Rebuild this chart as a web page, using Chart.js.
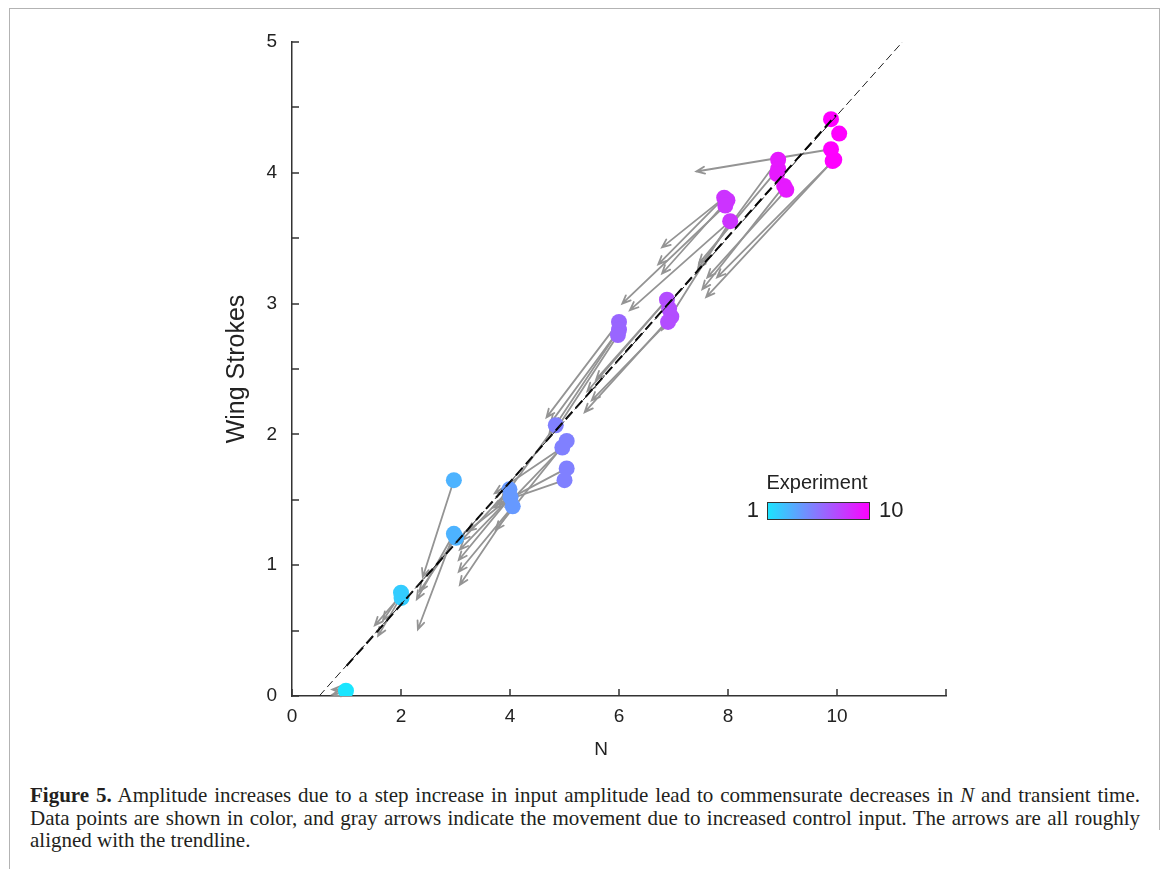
<!DOCTYPE html>
<html>
<head>
<meta charset="utf-8">
<script src="https://cdn.jsdelivr.net/npm/chart.js@4.4.0/dist/chart.umd.min.js"></script>
<style>
  body { margin:0; background:#fff; width:1168px; height:869px; overflow:hidden; position:relative; }
  #frame { position:absolute; left:9px; top:8px; width:1150px; height:900px; border-left:1px solid #b3b3b3; border-top:1px solid #b3b3b3; }
  #rline { position:absolute; left:1159px; top:8px; width:1px; height:822px; background:#b3b3b3; }
  canvas { position:absolute; left:0; top:0; }
  #caption { position:absolute; left:30px; top:784px; width:1110px; font-family:"Liberation Serif", "Times New Roman", serif; font-size:21px; line-height:22.5px; color:#231f20; }
  .j { text-align:justify; text-align-last:justify; }
</style>
</head>
<body>
<div id="frame"></div>
<div id="rline"></div>
<canvas id="myChart" width="1168" height="770"></canvas>
<div id="caption">
  <div class="j"><b>Figure 5.</b> Amplitude increases due to a step increase in input amplitude lead to commensurate decreases in <i>N</i> and transient time.</div>
  <div class="j">Data points are shown in color, and gray arrows indicate the movement due to increased control input. The arrows are all roughly</div>
  <div>aligned with the trendline.</div>
</div>
<script>
// data points (N, wing strokes) and the experiment they belong to
const pointN = [0.99, 2.0, 2.01, 2.97, 2.97, 3.01, 3.99, 4.01, 4.05, 4.84, 4.96, 5.04, 5.04, 5.0,
  6.0, 6.0, 5.98, 6.88, 6.92, 6.96, 6.9, 7.93, 7.99, 7.95, 8.04, 8.92, 8.92, 8.90, 9.03, 9.07,
  9.89, 10.04, 9.89, 9.95, 9.92]
const pointW = [0.04, 0.79, 0.75, 1.65, 1.24, 1.21, 1.58, 1.52, 1.45, 2.07, 1.90, 1.95, 1.74, 1.65,
  2.86, 2.80, 2.76, 3.03, 2.96, 2.90, 2.86, 3.81, 3.79, 3.75, 3.63, 4.10, 4.03, 3.99, 3.90, 3.87,
  4.41, 4.30, 4.18, 4.10, 4.09]
const pointExp = [1, 2, 2, 3, 3, 3, 4, 4, 4, 5, 5, 5, 5, 5, 6, 6, 6, 7, 7, 7, 7, 8, 8, 8, 8,
  9, 9, 9, 9, 9, 10, 10, 10, 10, 10]

// gray arrows, start -> end
const arrowFromN = [0.97, 0.97, 2.0, 2.0, 2.0, 2.97, 2.97, 2.97, 3.01, 3.99, 4.01, 4.01, 4.05, 4.05,
  4.01, 5.0, 5.04, 4.96, 5.04, 4.84, 4.96, 6.0, 6.0, 5.98, 6.0, 6.88, 6.96, 6.88, 6.9, 7.93, 7.99,
  7.95, 8.04, 7.93, 8.04, 8.92, 9.03, 8.92, 9.07, 9.89, 9.92, 9.95]
const arrowFromW = [0.05, 0.03, 0.77, 0.76, 0.78, 1.65, 1.24, 1.24, 1.21, 1.58, 1.52, 1.52, 1.45, 1.45,
  1.52, 1.65, 1.74, 1.90, 1.95, 2.07, 1.90, 2.86, 2.80, 2.76, 2.80, 3.03, 2.90, 3.03, 2.86, 3.81, 3.79,
  3.75, 3.63, 3.81, 3.63, 4.03, 3.90, 4.10, 3.87, 4.18, 4.09, 4.10]
const arrowToN = [0.74, 0.74, 1.52, 1.58, 1.67, 2.40, 2.31, 2.29, 2.34, 3.11, 3.08, 3.06, 3.06, 3.08,
  3.22, 3.75, 3.68, 3.72, 3.74, 3.85, 3.92, 4.67, 4.75, 4.82, 4.72, 5.42, 5.37, 5.58, 5.50, 6.79, 6.79,
  6.06, 6.79, 6.72, 6.20, 7.47, 7.53, 7.45, 7.62, 7.42, 7.60, 7.80]
const arrowToW = [0.05, 0.01, 0.54, 0.46, 0.58, 0.91, 0.51, 0.74, 0.80, 1.19, 1.12, 1.04, 0.95, 0.85,
  1.26, 1.47, 1.44, 1.55, 1.27, 1.50, 1.45, 2.13, 2.09, 2.02, 2.00, 2.33, 2.17, 2.42, 2.26, 3.43, 3.23,
  3.00, 2.80, 3.30, 2.95, 3.31, 3.11, 3.27, 3.20, 4.01, 3.05, 3.20]

// trendline: full extent and the part over the data
const trendN = [0.5, 11.2]
const trendW = [0, 5]
const fitN = [1.0, 9.98]
const fitW = [0.23, 4.44]

const expMin = 1
const expMax = 10

// matlab "cool" colormap
const cool = t => `rgb(${Math.round(255 * t)},${Math.round(255 * (1 - t))},255)`

const sans = '"Liberation Sans", Arial, Helvetica, sans-serif'

const arrowPlugin = {
  id: 'arrows',
  beforeDatasetsDraw(chart) {
    const { ctx, scales: { x, y } } = chart
    ctx.save()
    ctx.strokeStyle = 'rgb(148,148,148)'
    ctx.lineWidth = 1.8
    ctx.lineCap = 'round'
    arrowFromN.forEach((n, i) => {
      const x0 = x.getPixelForValue(n), y0 = y.getPixelForValue(arrowFromW[i])
      const x1 = x.getPixelForValue(arrowToN[i]), y1 = y.getPixelForValue(arrowToW[i])
      const a = Math.atan2(y1 - y0, x1 - x0)
      ctx.beginPath()
      ctx.moveTo(x0, y0)
      ctx.lineTo(x1, y1)
      ctx.moveTo(x1 - 9 * Math.cos(a - 0.4), y1 - 9 * Math.sin(a - 0.4))
      ctx.lineTo(x1, y1)
      ctx.lineTo(x1 - 9 * Math.cos(a + 0.4), y1 - 9 * Math.sin(a + 0.4))
      ctx.stroke()
    })
    ctx.restore()
  }
}

// tick marks point inward, plus the N label
const tickPlugin = {
  id: 'innerTicks',
  afterDraw(chart) {
    const { ctx, scales: { x, y }, chartArea: a } = chart
    ctx.save()
    ctx.strokeStyle = '#333'
    ctx.lineWidth = 1.5
    ctx.beginPath()
    x.ticks.forEach(t => {
      const px = Math.round(x.getPixelForValue(t.value))
      ctx.moveTo(px, a.bottom)
      ctx.lineTo(px, a.bottom - 7)
    })
    y.ticks.forEach(t => {
      const py = Math.round(y.getPixelForValue(t.value))
      ctx.moveTo(a.left, py)
      ctx.lineTo(a.left + 7, py)
    })
    ctx.stroke()
    ctx.fillStyle = '#222'
    ctx.font = '19px ' + sans
    ctx.textAlign = 'center'
    ctx.textBaseline = 'middle'
    ctx.fillText('N', 601, 750)
    ctx.restore()
  }
}

const colorbarPlugin = {
  id: 'colorbar',
  afterDraw(chart) {
    const ctx = chart.ctx
    const bx = 767, by = 502, bw = 103, bh = 18
    ctx.save()
    const g = ctx.createLinearGradient(bx, 0, bx + bw, 0)
    g.addColorStop(0, cool(expMin / 10))
    g.addColorStop(0.5, cool((expMin + expMax) / 20))
    g.addColorStop(1, cool(expMax / 10))
    ctx.fillStyle = g
    ctx.fillRect(bx, by, bw, bh)
    ctx.strokeStyle = '#333'
    ctx.lineWidth = 1
    ctx.strokeRect(bx + 0.5, by + 0.5, bw - 1, bh - 1)
    ctx.fillStyle = '#222'
    ctx.textBaseline = 'middle'
    ctx.textAlign = 'center'
    ctx.font = '20px ' + sans
    ctx.fillText('Experiment', 817, 483)
    ctx.font = '22px ' + sans
    ctx.textAlign = 'right'
    ctx.fillText(String(expMin), 759, 511)
    ctx.textAlign = 'left'
    ctx.fillText(String(expMax), 879, 511)
    ctx.restore()
  }
}

const ctx = document.getElementById('myChart').getContext('2d')
const myChart = new Chart(ctx, {
  type: 'scatter',
  data: {
    datasets: [
      {
        type: 'line',
        data: trendN.map((n, i) => ({ x: n, y: trendW[i] })),
        borderColor: '#222',
        borderWidth: 1,
        borderDash: [8, 4],
        pointRadius: 0,
        order: 0,
      },
      {
        type: 'line',
        data: fitN.map((n, i) => ({ x: n, y: fitW[i] })),
        borderColor: '#000',
        borderWidth: 2,
        borderDash: [10, 5],
        pointRadius: 0,
        order: 0,
      },
      {
        data: pointN.map((n, i) => ({ x: n, y: pointW[i] })),
        backgroundColor: pointExp.map(e => cool(e / 10)),
        pointRadius: 8,
        pointHoverRadius: 8,
        borderWidth: 0,
        order: 1,
      },
    ],
  },
  options: {
    responsive: false,
    animation: false,
    devicePixelRatio: 1,
    layout: { padding: { left: 200, right: 222, top: 42, bottom: 0 } },
    plugins: { legend: { display: false }, tooltip: { enabled: false } },
    scales: {
      x: {
        type: 'linear',
        min: 0,
        max: 12,
        grid: { display: false, drawTicks: false },
        border: { color: '#333', width: 1.5 },
        ticks: {
          stepSize: 2,
          padding: 9,
          color: '#222',
          font: { family: sans, size: 19 },
          callback: v => (v === 12 ? '' : v),
        },
        afterFit(s) { s.height = 74 },
      },
      y: {
        type: 'linear',
        min: 0,
        max: 5,
        grid: { display: false, drawTicks: false },
        border: { color: '#333', width: 1.5 },
        ticks: {
          stepSize: 0.5,
          padding: 15,
          color: '#222',
          autoSkip: false,
          font: { family: sans, size: 19 },
          callback: v => (Number.isInteger(v) ? v : ''),
        },
        title: { display: true, text: 'Wing Strokes', color: '#222', font: { family: sans, size: 25 }, padding: { top: 22, bottom: 0 } },
        afterFit(s) { s.width = 92 },
      },
    },
  },
  plugins: [arrowPlugin, tickPlugin, colorbarPlugin],
})
</script>
</body>
</html>
